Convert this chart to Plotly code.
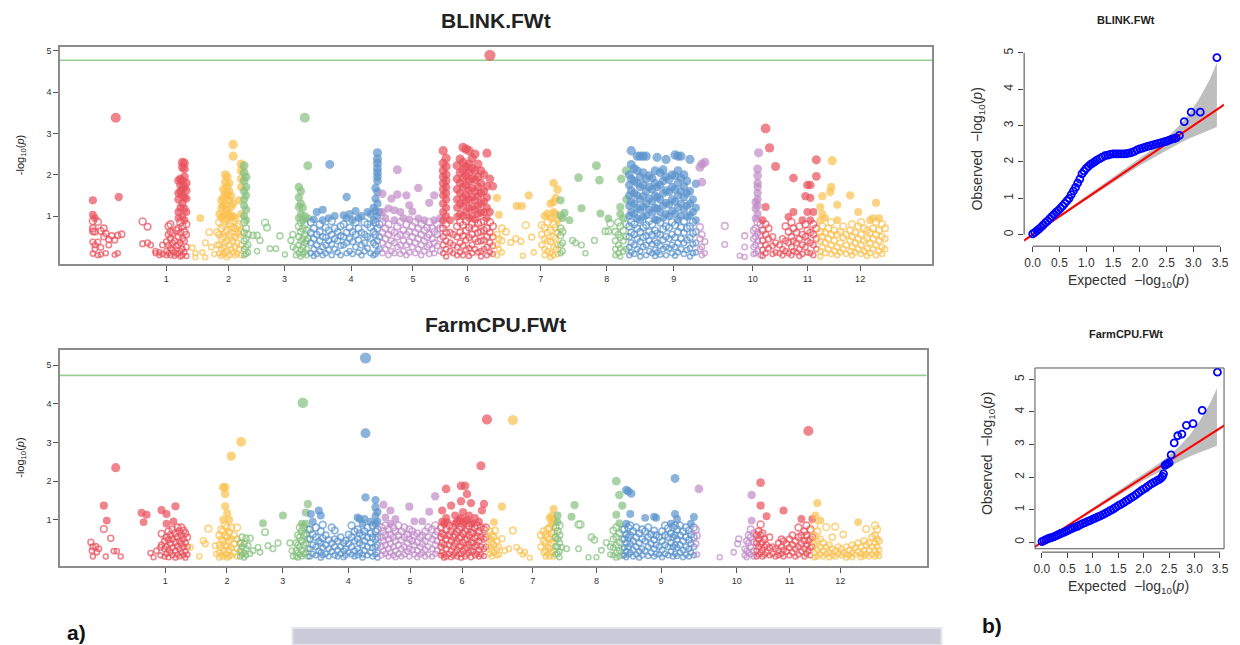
import plotly.graph_objects as go

W, H = 1240, 645
FONT = "Liberation Sans, Arial, sans-serif"

# ---------------- chromosome axis ----------------
CHROM_LABELS = [str(i) for i in range(1, 13)]
CHROM_COLORS = ["#E8505B", "#F9C14E", "#86C07F", "#5A93CC", "#C18DC7"]

BLINK_TICK_POS = [106.7, 169.4, 225.7, 292.4, 354.7, 409.0, 483.0, 549.4, 616.7, 696.0, 751.4, 804.0]
FARM_TICK_POS = [105.7, 167.7, 223.7, 289.7, 351.7, 404.0, 475.0, 539.0, 604.0, 680.0, 733.0, 784.0]

BLINK_THRESHOLD = 4.77
FARM_THRESHOLD = 4.74

# ---------------- BLINK.FWt : (cumulative position, [-log10 p of SNPs there]) ----------------
BLINK_CHR01 = [
    (33, [1.38, 1.03, 0.88, 0.70, 0.63, 0.37, 0.09]), (35, [0.95, 0.62, 0.30, 0.20]),
    (38, [0.86, 0.37, 0.05]), (41, [0.64, 0.24, 0.07]), (44, [0.70, 0.50]), (46, [0.58, 0.10]),
    (49, [0.43, 0.30]), (52, [0.52]), (55, [0.42, 0.06]), (56, [3.38]), (58, [0.53, 0.10]),
    (59, [1.46]), (62, [0.56]),
    (83, [0.87, 0.33]), (88, [0.74, 0.35]), (91, [0.30]), (96, [0.15, 0.10]), (100, [0.12, 0.05]),
    (103, [0.30, 0.08]), (107, [0.38, 0.15, 0.05]), (109, [0.75, 0.55, 0.30, 0.10]),
    (111, [0.80, 0.62, 0.45, 0.22, 0.05]), (113, [0.58, 0.35, 0.18]), (115, [0.40, 0.12, 0.03]),
    (117, [0.65, 0.28, 0.08]),
    (119, [1.86, 1.55, 1.40, 1.10, 0.95, 0.70, 0.50, 0.30, 0.10]),
    (121, [1.90, 1.75, 1.60, 1.20, 0.85, 0.60, 0.35, 0.15, 0.02]),
    (123, [2.30, 2.18, 1.85, 1.66, 1.50, 1.30, 1.00, 0.75, 0.45, 0.20, 0.05]),
    (125, [2.28, 2.14, 1.95, 1.70, 1.45, 1.18, 0.90, 0.62, 0.40, 0.12]),
    (127, [1.80, 1.62, 1.42, 1.10, 0.80, 0.55, 0.25, 0.03]),
]
BLINK_CHR02 = [
    (133, [0.23]), (136, [0.10, 0.00]), (141, [0.95]), (143, [0.12]), (146, [0.35, 0.00]),
    (150, [0.61]), (152, [0.25]), (155, [0.08]), (158, [0.61, 0.30]),
    (160, [1.05, 0.85, 0.55, 0.30, 0.10]), (162, [1.38, 1.20, 0.95, 0.70, 0.45, 0.20, 0.03]),
    (164, [1.65, 1.45, 1.25, 1.00, 0.78, 0.50, 0.25, 0.08]),
    (166, [2.00, 1.82, 1.55, 1.30, 1.08, 0.88, 0.60, 0.35, 0.12]),
    (168, [1.95, 1.70, 1.50, 1.15, 0.92, 0.65, 0.40, 0.15, 0.00]),
    (170, [1.80, 1.60, 1.38, 1.05, 0.82, 0.55, 0.30, 0.05]),
    (172, [1.48, 1.22, 0.98, 0.75, 0.48, 0.20]), (174, [2.73, 2.45, 1.30, 1.00, 0.72, 0.40, 0.12]),
    (176, [0.95, 0.70, 0.50, 0.25, 0.05]), (178, [0.75, 0.60, 0.35, 0.10]),
    (180, [1.38, 0.80, 0.55, 0.20]), (182, [2.26, 2.10, 1.90, 1.70, 1.05, 0.62, 0.30, 0.05]),
]
BLINK_CHR03 = [
    (185, [2.22, 2.05, 1.85, 1.60, 1.40, 1.25, 1.00, 0.85, 0.60, 0.40, 0.20, 0.05]),
    (187, [1.95, 1.70, 1.50, 1.15, 0.90, 0.70, 0.45, 0.25, 0.08]), (189, [0.55, 0.30, 0.12]),
    (194, [0.53]), (198, [0.53, 0.15]), (201, [0.41]), (206, [0.84]), (208, [0.72]), (211, [0.21]),
    (217, [0.21]), (221, [0.52]), (226, [0.07]), (232, [0.41]), (234, [0.55, 0.25]), (237, [0.20, 0.05]),
    (240, [1.70, 1.45, 1.22, 0.95, 0.75, 0.50, 0.30, 0.10]),
    (242, [1.60, 1.30, 1.05, 0.85, 0.62, 0.40, 0.18, 0.02]), (244, [1.20, 0.90, 0.70, 0.45, 0.25, 0.08]),
    (246, [3.38, 1.00, 0.80, 0.55, 0.35, 0.12]), (248, [0.65, 0.40, 0.20, 0.05]), (249, [2.22, 0.95, 0.45]),
]
BLINK_CHR04 = [
    (252, [0.85, 0.60, 0.35, 0.10]), (255, [0.92, 0.70, 0.45, 0.20, 0.03]), (258, [1.10, 0.55, 0.30, 0.08]),
    (261, [0.80, 0.62, 0.40, 0.15]), (264, [1.15, 0.90, 0.50, 0.25, 0.05]), (267, [0.72, 0.48, 0.30, 0.10]),
    (270, [0.95, 0.65, 0.40, 0.18]), (271, [2.25]), (273, [0.88, 0.55, 0.32, 0.05]),
    (276, [1.00, 0.70, 0.45, 0.20]), (279, [0.62, 0.40, 0.12]), (282, [0.75, 0.52, 0.28, 0.05]),
    (285, [1.02, 0.80, 0.50, 0.30]), (288, [1.46, 0.95, 0.60, 0.35, 0.10]), (291, [1.05, 0.72, 0.45, 0.15]),
    (294, [0.90, 0.62, 0.38, 0.08]), (297, [1.12, 0.85, 0.55, 0.25]), (300, [0.95, 0.70, 0.42, 0.12]),
    (303, [1.00, 0.60, 0.30, 0.05]), (306, [0.85, 0.55, 0.35, 0.15]), (309, [1.10, 0.80, 0.50, 0.22]),
    (312, [1.05, 0.72, 0.45, 0.10]), (315, [1.20, 0.90, 0.62, 0.35, 0.05]),
    (317, [1.68, 1.42, 1.12, 0.85, 0.55, 0.30, 0.08]),
    (319, [2.53, 2.38, 2.28, 2.15, 2.05, 1.95, 1.85, 1.58, 1.30, 1.00, 0.70, 0.40, 0.15]),
    (321, [1.10, 0.80, 0.50, 0.20]),
]
BLINK_CHR05 = [
    (324, [1.54, 1.10, 0.85, 0.60, 0.35, 0.10]), (327, [0.95, 0.70, 0.45, 0.20]),
    (330, [1.18, 0.80, 0.55, 0.30, 0.05]), (333, [1.42, 0.65, 0.40, 0.15]),
    (336, [1.14, 0.90, 0.60, 0.35, 0.10]), (339, [2.12, 1.52, 0.75, 0.50, 0.25]),
    (342, [1.10, 0.85, 0.55, 0.30, 0.08]), (345, [0.95, 0.65, 0.40, 0.15]),
    (348, [1.50, 0.80, 0.55, 0.30, 0.05]), (351, [1.26, 0.92, 0.62, 0.38, 0.12]),
    (354, [1.11, 0.75, 0.50, 0.25]), (357, [0.85, 0.60, 0.35, 0.10]), (360, [1.68, 0.94, 0.70, 0.45, 0.20]),
    (363, [0.80, 0.55, 0.30, 0.05]), (366, [0.90, 0.65, 0.40, 0.15]), (369, [0.72, 0.48, 0.25]),
    (371, [1.32, 0.85, 0.55, 0.30, 0.08]), (374, [0.70, 0.45, 0.20]), (376, [1.50, 0.90, 0.62, 0.35, 0.10]),
    (379, [0.80, 0.55, 0.28]), (382, [0.95, 0.70, 0.45, 0.15]),
]
BLINK_CHR06 = [
    (385, [2.58, 2.28, 2.10, 1.95, 1.80, 1.65, 1.50, 1.30, 1.10, 0.90, 0.70, 0.50, 0.30, 0.10]),
    (388, [2.40, 2.20, 2.00, 1.85, 1.70, 1.55, 1.40, 1.20, 1.00, 0.80, 0.60, 0.40, 0.20, 0.02]),
    (392, [0.90, 0.60, 0.35, 0.15]), (395, [0.55, 0.30, 0.10]),
    (399, [2.22, 1.90, 1.65, 1.40, 1.20, 0.98, 0.75, 0.50, 0.25, 0.05]),
    (402, [2.38, 2.05, 1.80, 1.55, 1.30, 1.05, 0.85, 0.60, 0.35, 0.12]),
    (405, [2.66, 2.30, 2.12, 1.92, 1.70, 1.45, 1.25, 1.00, 0.78, 0.52, 0.28, 0.05]),
    (408, [2.62, 2.20, 1.98, 1.75, 1.52, 1.35, 1.10, 0.88, 0.65, 0.42, 0.18]),
    (411, [2.58, 2.26, 2.05, 1.85, 1.62, 1.40, 1.18, 0.95, 0.72, 0.48, 0.22, 0.03]),
    (414, [2.40, 2.15, 1.90, 1.68, 1.45, 1.22, 1.00, 0.80, 0.55, 0.30, 0.10]),
    (417, [2.50, 2.10, 1.88, 1.60, 1.38, 1.15, 0.92, 0.70, 0.45, 0.20]),
    (420, [2.26, 1.95, 1.70, 1.48, 1.25, 1.05, 0.82, 0.60, 0.38, 0.12]),
    (423, [2.10, 1.80, 1.55, 1.30, 1.08, 0.85, 0.62, 0.40, 0.15, 0.02]),
    (426, [2.00, 1.60, 1.35, 1.10, 0.88, 0.65, 0.42, 0.20]),
    (429, [2.52, 1.72, 1.45, 1.20, 0.95, 0.70, 0.50, 0.25, 0.05]),
    (432, [4.89, 1.90, 1.10, 0.85, 0.60, 0.35, 0.12]), (435, [1.72, 0.75, 0.50, 0.28, 0.08]),
]
BLINK_CHR07 = [
    (439, [1.44, 0.55, 0.30, 0.05]), (441, [1.03, 0.45, 0.20]), (444, [0.70, 0.40, 0.12]), (448, [0.62]),
    (453, [0.36]), (458, [0.45]), (459, [1.24]), (463, [0.39]), (464, [1.24]), (465, [0.04]),
    (468, [0.78]), (471, [1.50]), (474, [0.49]), (476, [0.12]),
    (484, [0.78, 0.55, 0.30]), (487, [1.00, 0.72, 0.45, 0.20, 0.05]), (490, [1.06, 0.85, 0.60, 0.40, 0.15]),
    (493, [1.30, 0.95, 0.65, 0.38, 0.10, 0.00]), (496, [1.80, 1.34, 1.10, 0.80, 0.50, 0.25, 0.05]),
    (498, [1.44, 1.05, 0.72, 0.45, 0.20]), (500, [1.64, 0.90, 0.60, 0.30, 0.08]),
]
BLINK_CHR08 = [
    (503, [1.38, 1.02, 0.70, 0.53, 0.30, 0.10]), (505, [0.95, 0.62, 0.35, 0.15]), (507, [1.08]),
    (512, [0.90]), (515, [0.41]), (518, [0.35]), (521, [1.93]), (524, [1.19, 0.30]), (528, [0.10]),
    (537, [0.41]), (539, [2.22]), (542, [1.87]), (543, [1.06]), (548, [0.63]), (551, [0.94, 0.63]),
    (553, [0.82]), (558, [0.62, 0.40, 0.20, 0.05]), (561, [0.85, 0.55, 0.30, 0.10]),
    (563, [1.22, 1.05, 0.75, 0.48, 0.22, 0.02]), (564, [1.90]), (566, [0.95, 0.65, 0.40, 0.15]),
    (569, [2.10, 1.40, 0.80, 0.50, 0.20]),
]
BLINK_CHR09 = [
    (572, [2.00, 1.75, 1.50, 1.25, 1.00, 0.75, 0.50, 0.25, 0.05]),
    (574, [2.58, 2.25, 1.90, 1.62, 1.35, 1.10, 0.85, 0.60, 0.35, 0.12]),
    (577, [2.15, 1.85, 1.55, 1.30, 1.05, 0.80, 0.55, 0.30, 0.08]),
    (580, [2.45, 2.10, 1.80, 1.50, 1.20, 0.95, 0.70, 0.45, 0.20]),
    (583, [2.45, 1.95, 1.70, 1.40, 1.15, 0.90, 0.62, 0.38, 0.15, 0.02]),
    (586, [2.45, 2.05, 1.75, 1.48, 1.22, 0.98, 0.72, 0.48, 0.25]),
    (589, [2.45, 1.90, 1.60, 1.30, 1.02, 0.78, 0.52, 0.30, 0.05]),
    (592, [1.98, 1.70, 1.42, 1.15, 0.88, 0.62, 0.40, 0.15]),
    (595, [1.92, 1.65, 1.35, 1.08, 0.80, 0.55, 0.32, 0.10]),
    (598, [2.10, 1.80, 1.50, 1.20, 0.92, 0.65, 0.40, 0.18, 0.03]),
    (600, [2.42, 1.70, 1.45, 1.18, 0.90, 0.58, 0.35, 0.12]),
    (603, [2.05, 1.75, 1.40, 1.10, 0.85, 0.55, 0.28, 0.06]),
    (606, [2.12, 1.85, 1.55, 1.25, 0.95, 0.68, 0.42, 0.20]),
    (609, [2.37, 1.95, 1.62, 1.32, 1.05, 0.75, 0.50, 0.25, 0.05]),
    (612, [1.88, 1.58, 1.28, 1.00, 0.72, 0.45, 0.22]),
    (615, [2.00, 1.70, 1.40, 1.12, 0.85, 0.55, 0.30, 0.10]),
    (618, [2.48, 1.98, 1.65, 1.35, 1.05, 0.78, 0.48, 0.25, 0.04]),
    (621, [2.45, 2.10, 1.80, 1.50, 1.20, 0.90, 0.62, 0.35, 0.12]),
    (624, [2.45, 1.92, 1.60, 1.30, 1.00, 0.72, 0.45, 0.20]),
    (627, [2.00, 1.72, 1.45, 1.15, 0.88, 0.60, 0.35, 0.08]),
    (630, [1.85, 1.55, 1.25, 0.98, 0.70, 0.42, 0.18]),
    (633, [2.37, 1.60, 1.30, 1.02, 0.75, 0.48, 0.22, 0.02]),
    (636, [1.40, 1.10, 0.85, 0.58, 0.32, 0.10]), (639, [1.78, 1.20, 0.90, 0.62, 0.35, 0.12]),
]
BLINK_CHR10 = [
    (643, [2.18, 0.73, 0.45, 0.20]), (645, [2.26, 1.82, 0.55, 0.25, 0.05]), (648, [2.30, 0.38, 0.10]),
    (668, [0.76, 0.31]), (683, [0.04]), (688, [0.52, 0.25, 0.01]),
    (697, [0.65, 0.45, 0.25, 0.08]), (699, [1.34, 1.18, 0.94, 0.70, 0.50, 0.30, 0.10]),
    (701, [2.14, 1.98, 1.80, 1.70, 1.55, 1.40, 1.25, 1.05, 0.85, 0.60, 0.40, 0.15]),
    (702, [2.53]), (704, [0.80, 0.55, 0.30, 0.05]),
]
BLINK_CHR11 = [
    (706, [0.90, 0.65, 0.40, 0.18, 0.03]), (709, [3.12, 1.22, 0.80, 0.55, 0.30, 0.10]),
    (712, [0.70, 0.45, 0.22]), (713, [2.65]), (716, [0.50, 0.28, 0.08]), (719, [2.20, 0.35, 0.12]),
    (723, [0.30, 0.10]), (726, [0.45, 0.20, 0.05]), (729, [0.75, 0.40, 0.15]),
    (732, [0.98, 0.62, 0.35, 0.10]), (735, [0.85, 0.50, 0.25, 0.05]), (737, [1.92, 1.10, 0.70, 0.40, 0.15]),
    (740, [0.60, 0.35, 0.12]), (743, [0.75, 0.45, 0.20, 0.03]), (746, [0.90, 0.55, 0.30, 0.08]),
    (749, [1.48, 0.80, 0.50, 0.25]), (751, [1.75, 1.10, 0.65, 0.40, 0.12]),
    (754, [1.75, 1.44, 0.90, 0.60, 0.35, 0.10]), (757, [1.10, 0.80, 0.55, 0.30, 0.05]),
    (760, [2.36, 1.96, 0.70, 0.45, 0.20]),
]
BLINK_CHR12 = [
    (764, [1.22, 0.90, 0.62, 0.40, 0.15, 0.02]), (766, [1.48, 1.05, 0.75, 0.50, 0.25]),
    (769, [0.95, 0.60, 0.35, 0.10]), (772, [0.70, 0.45, 0.20]), (774, [1.58]),
    (775, [1.70, 0.85, 0.55, 0.30, 0.08]), (776, [2.34]), (778, [0.65, 0.40, 0.15]),
    (781, [1.27, 0.90, 0.55, 0.25, 0.05]), (784, [0.62, 0.35, 0.12]), (787, [0.75, 0.48, 0.20]),
    (790, [0.55, 0.30, 0.08]), (794, [1.50, 0.65, 0.40, 0.15]), (796, [0.80, 0.50, 0.25, 0.05]),
    (799, [0.60, 0.35, 0.12]), (802, [1.10, 0.75, 0.45, 0.20]), (805, [0.85, 0.55, 0.30, 0.08]),
    (808, [0.70, 0.40, 0.15]), (811, [0.65, 0.45, 0.22, 0.03]), (814, [0.90, 0.60, 0.35, 0.10]),
    (817, [0.95, 0.70, 0.45, 0.20]), (820, [1.32, 0.85, 0.55, 0.30, 0.05]),
    (823, [0.95, 0.65, 0.40, 0.15]), (826, [0.80, 0.50, 0.25, 0.08]), (829, [0.70, 0.45, 0.20]),
]

# ---------------- FarmCPU.FWt ----------------
FARM_CHR01 = [
    (31, [0.42]), (32, [0.20]), (33, [0.30, 0.05]), (36, [0.31]), (37, [0.16]), (39, [0.25]),
    (44, [1.37, 0.76]), (46, [0.05]), (47, [0.98]), (51, [0.52]), (54, [0.19]), (56, [2.35]),
    (57, [0.19]), (61, [0.05]),
    (82, [1.18]), (84, [0.94]), (87, [1.13]), (91, [0.14]), (94, [0.03]), (97, [0.20]),
    (101, [0.29, 0.08]), (102, [1.25, 0.64, 0.35]), (105, [0.45, 0.25, 0.05]),
    (107, [1.15, 0.90, 0.55, 0.30, 0.12]), (109, [0.70, 0.48, 0.22, 0.03]), (111, [0.60, 0.38, 0.15]),
    (113, [0.75, 0.50, 0.28, 0.08]), (114, [0.96]), (116, [1.35, 0.65, 0.42, 0.20, 0.02]),
    (118, [0.80, 0.55, 0.32, 0.10]), (120, [0.70, 0.45, 0.25, 0.05]), (122, [0.80, 0.60, 0.38, 0.15]),
    (124, [0.72, 0.50, 0.30, 0.08]), (126, [0.65, 0.40, 0.18, 0.02]), (128, [0.55, 0.30, 0.10]),
]
FARM_CHR02 = [
    (131, [0.29]), (140, [0.05]), (144, [0.46]), (146, [0.38]), (149, [0.77]), (156, [0.33]),
    (157, [0.12]), (160, [0.60, 0.35, 0.15, 0.02]), (162, [0.75, 0.50, 0.28, 0.08]),
    (164, [1.84, 1.00, 0.70, 0.45, 0.20, 0.05]), (166, [1.84, 1.67, 1.35, 0.85, 0.60, 0.35, 0.12]),
    (168, [1.17, 0.80, 0.55, 0.30, 0.10, 0.02]), (170, [1.00, 0.68, 0.45, 0.22, 0.05]),
    (172, [2.65, 0.80, 0.50, 0.28, 0.08]), (175, [0.60, 0.38, 0.15]), (178, [0.80, 0.50, 0.25, 0.05]),
    (182, [3.02, 0.40, 0.15]),
]
FARM_CHR03 = [
    (181, [0.40, 0.20, 0.05]), (183, [0.55, 0.30, 0.10]), (185, [0.38, 0.15, 0.02]),
    (187, [0.52, 0.25, 0.08]), (189, [0.33]), (191, [0.52, 0.12]), (194, [0.20]), (199, [0.29]),
    (201, [0.16]), (204, [0.91]), (206, [0.68]), (209, [0.33]), (214, [0.25]), (219, [0.40]),
    (224, [1.11]), (231, [0.40]), (233, [0.20]), (234, [0.05]),
    (237, [0.40, 0.20, 0.05]), (239, [0.60, 0.35, 0.15, 0.02]), (241, [0.80, 0.55, 0.30, 0.10]),
    (243, [0.90, 0.70, 0.45, 0.20, 0.05]), (244, [4.03]), (245, [0.80, 0.60, 0.35, 0.12]),
    (247, [1.19, 0.90, 0.65, 0.40, 0.15]), (249, [1.41, 0.75, 0.50, 0.25, 0.05]),
]
FARM_CHR04 = [
    (251, [0.75, 0.50, 0.25, 0.05]), (252, [1.15]), (254, [0.95, 0.62, 0.35, 0.12]),
    (257, [0.80, 0.55, 0.30, 0.08]), (260, [1.24, 0.45, 0.20]), (262, [1.11, 0.70, 0.40, 0.15, 0.02]),
    (264, [0.87, 0.52, 0.28, 0.08]), (267, [0.60, 0.35, 0.12]), (270, [0.48, 0.25, 0.05]),
    (273, [0.80, 0.40, 0.18]), (276, [0.72, 0.50, 0.30, 0.08]), (279, [0.45, 0.22, 0.05]),
    (282, [0.55, 0.30, 0.12]), (285, [0.40, 0.20, 0.03]), (287, [0.46, 0.25, 0.08]),
    (290, [0.62, 0.38, 0.15]), (293, [0.85, 0.55, 0.30, 0.10]), (296, [0.70, 0.45, 0.20, 0.05]),
    (299, [1.06, 0.75, 0.50, 0.25, 0.08]), (301, [1.02, 0.65, 0.40, 0.15]),
    (304, [0.90, 0.60, 0.35, 0.10, 0.02]), (306, [1.02, 0.70, 0.45, 0.20]), (307, [5.19, 3.24, 1.58]),
    (309, [0.80, 0.55, 0.30, 0.08]), (312, [0.95, 0.65, 0.40, 0.15]), (314, [0.85, 0.55, 0.28, 0.05]),
    (317, [1.51, 1.32, 1.10, 0.90, 0.70, 0.50, 0.30, 0.10]),
    (319, [1.20, 0.95, 0.75, 0.55, 0.35, 0.15, 0.02]),
]
FARM_CHR05 = [
    (323, [0.80, 0.55, 0.30, 0.08]), (325, [1.39, 0.70, 0.45, 0.20]), (327, [1.06, 0.85, 0.60, 0.35, 0.12]),
    (330, [0.75, 0.50, 0.25, 0.05]), (332, [1.24, 0.90, 0.62, 0.38, 0.15]), (335, [0.80, 0.55, 0.30, 0.08]),
    (337, [1.02, 0.70, 0.45, 0.20, 0.03]), (340, [0.85, 0.60, 0.35, 0.12]),
    (343, [0.70, 0.48, 0.25, 0.05]), (346, [0.80, 0.55, 0.30, 0.10]), (349, [0.62, 0.40, 0.18]),
    (351, [1.34, 0.75, 0.50, 0.25, 0.05]), (354, [0.70, 0.45, 0.22]), (356, [0.96, 0.60, 0.35, 0.10]),
    (359, [0.65, 0.42, 0.20, 0.03]), (362, [0.55, 0.30, 0.10]), (364, [0.96, 0.60, 0.38, 0.15]),
    (367, [0.70, 0.45, 0.22, 0.05]), (370, [0.80, 0.55, 0.30, 0.10]), (371, [1.21]),
    (374, [0.75, 0.50, 0.25, 0.05]), (377, [1.61, 0.85, 0.60, 0.35, 0.12]), (379, [0.70, 0.45, 0.20]),
]
FARM_CHR06 = [
    (383, [0.80, 0.55, 0.30, 0.08]), (384, [1.24, 0.95, 0.65, 0.40, 0.15]),
    (386, [0.90, 0.60, 0.35, 0.10, 0.02]), (388, [1.80, 1.05, 0.75, 0.50, 0.25, 0.05]), (389, [0.94]),
    (391, [0.85, 0.60, 0.35, 0.12]), (393, [1.37, 0.70, 0.45, 0.20, 0.03]), (395, [0.80, 0.55, 0.30, 0.08]),
    (397, [1.11, 0.90, 0.62, 0.38, 0.15]), (399, [0.95, 0.70, 0.45, 0.22, 0.05]),
    (401, [1.00, 0.75, 0.52, 0.30, 0.10]), (403, [1.88, 1.48, 1.05, 0.80, 0.55, 0.32, 0.12, 0.02]),
    (405, [1.20, 0.90, 0.65, 0.42, 0.20]), (407, [1.88, 0.95, 0.70, 0.48, 0.25, 0.05]),
    (409, [1.67, 1.00, 0.75, 0.50, 0.28, 0.10]), (411, [1.11, 0.85, 0.60, 0.35, 0.15]),
    (413, [1.43, 0.92, 0.68, 0.42, 0.20, 0.03]), (415, [0.90, 0.65, 0.40, 0.18]),
    (417, [1.05, 0.78, 0.52, 0.30, 0.08]), (419, [0.85, 0.58, 0.35, 0.12]),
    (421, [0.95, 0.70, 0.45, 0.22, 0.05]), (423, [2.40, 0.80, 0.55, 0.30, 0.10]), (424, [1.24]),
    (426, [1.41, 0.75, 0.50, 0.25, 0.06]), (428, [0.80, 0.55, 0.30]), (429, [3.60]),
]
FARM_CHR07 = [
    (432, [0.70, 0.50, 0.30, 0.12]), (434, [0.60, 0.40, 0.20, 0.05]), (436, [0.94, 0.55, 0.35, 0.15]),
    (437, [0.72]), (439, [0.45, 0.25, 0.08]), (441, [0.30, 0.10]), (444, [1.34, 0.51]), (447, [0.20]),
    (451, [0.25]), (455, [3.58, 0.72]), (459, [0.29]), (462, [0.20]), (465, [0.10]), (467, [0.16]),
    (472, [0.02]),
    (483, [0.60, 0.30]), (486, [0.70, 0.45, 0.15]), (488, [0.62, 0.40, 0.20, 0.05]),
    (490, [0.75, 0.55, 0.30, 0.10]), (492, [1.05, 0.80, 0.50, 0.25, 0.05]),
    (494, [1.10, 0.90, 0.65, 0.40, 0.15]), (496, [1.28, 1.00, 0.70, 0.45, 0.20, 0.05]),
]
FARM_CHR08 = [
    (498, [0.80, 0.55, 0.30, 0.10]), (500, [1.11, 0.94, 0.70, 0.50, 0.30, 0.12]),
    (502, [0.85, 0.60, 0.40, 0.18, 0.03]), (504, [0.29]), (509, [0.25]), (514, [1.08]), (517, [1.38]),
    (521, [0.88, 0.25]), (523, [0.88]), (531, [0.03]), (534, [0.55]), (537, [0.48]), (539, [0.03]),
    (544, [0.21]), (549, [0.41]), (553, [0.30, 0.10]), (556, [0.72, 0.50, 0.28, 0.08]),
    (559, [2.00, 1.13, 0.80, 0.55, 0.35, 0.15, 0.02]), (562, [1.64, 0.91, 0.65, 0.42, 0.20, 0.05]),
    (565, [1.37, 0.75, 0.50, 0.25, 0.08]),
]
FARM_CHR09 = [
    (567, [0.75, 0.50, 0.28, 0.08]), (569, [1.77, 0.90, 0.62, 0.40, 0.18, 0.03]),
    (571, [1.74, 0.80, 0.55, 0.30, 0.10]), (573, [1.15, 0.85, 0.60, 0.38, 0.15]), (574, [1.68]),
    (576, [0.70, 0.45, 0.22, 0.05]), (579, [0.80, 0.55, 0.30, 0.10]), (582, [0.65, 0.40, 0.18, 0.02]),
    (585, [0.75, 0.50, 0.25, 0.08]), (588, [1.05, 0.70, 0.45, 0.20]), (591, [0.80, 0.55, 0.30, 0.06]),
    (594, [0.62, 0.38, 0.15]), (597, [1.08, 0.72, 0.48, 0.25, 0.05]), (599, [1.05, 0.60, 0.35, 0.12]),
    (602, [0.55, 0.30, 0.10]), (605, [0.70, 0.45, 0.22, 0.03]), (608, [0.85, 0.60, 0.35, 0.12]),
    (611, [0.78, 0.55, 0.30, 0.08]), (614, [0.90, 0.65, 0.40, 0.18]), (616, [0.80, 0.55, 0.30, 0.05]),
    (618, [2.07, 1.15, 0.85, 0.60, 0.35, 0.12]), (620, [1.02, 0.75, 0.50, 0.28, 0.06]),
    (623, [0.85, 0.60, 0.35, 0.15]), (626, [0.70, 0.45, 0.22, 0.03]), (629, [0.80, 0.55, 0.30, 0.10]),
    (632, [0.72, 0.48, 0.25, 0.05]), (634, [0.90, 0.62, 0.38, 0.15]), (637, [1.07, 0.80, 0.55, 0.30, 0.08]),
]
FARM_CHR10 = [
    (639, [0.74, 0.38]), (640, [0.59, 0.10]), (642, [1.80]), (663, [0.03]), (677, [0.16]), (681, [0.38]),
    (682, [0.50]), (688, [0.25, 0.08]), (690, [0.45, 0.20, 0.03]), (692, [0.60, 0.40, 0.15]),
    (694, [0.75, 0.55, 0.30, 0.10]), (695, [1.64, 0.98]), (697, [0.65, 0.42, 0.20, 0.05]),
]
FARM_CHR11 = [
    (700, [0.60, 0.40, 0.20, 0.05]), (702, [0.70, 0.50, 0.30, 0.10]),
    (704, [1.96, 1.37, 0.88, 0.60, 0.38, 0.15]), (706, [0.65, 0.42, 0.22, 0.05]), (708, [0.50, 0.30, 0.10]),
    (710, [1.09, 0.35, 0.15]), (713, [0.55, 0.28, 0.08]), (716, [0.30, 0.12]), (719, [0.25, 0.05]),
    (722, [0.40, 0.20, 0.08]), (725, [0.50, 0.30, 0.12]), (727, [1.24, 0.45, 0.22, 0.05]),
    (730, [0.38, 0.18]), (733, [0.50, 0.28, 0.08]), (736, [0.60, 0.35, 0.15]), (739, [0.45, 0.25, 0.05]),
    (742, [0.80, 0.55, 0.30, 0.10]), (745, [1.02, 0.60, 0.38, 0.18]), (748, [0.70, 0.45, 0.25, 0.05]),
    (750, [0.85, 0.60, 0.35, 0.12]), (752, [3.30, 0.46, 0.20]), (754, [0.75, 0.50, 0.28, 0.08]),
    (756, [1.02, 0.55, 0.30]),
]
FARM_CHR12 = [
    (758, [0.85, 0.60, 0.38, 0.15, 0.03]), (759, [1.11]), (761, [1.43, 0.70, 0.45, 0.22, 0.05]),
    (764, [0.98, 0.50, 0.28, 0.10]), (767, [0.40, 0.20, 0.05]), (770, [0.81, 0.30, 0.12]),
    (773, [0.35, 0.15, 0.03]), (776, [0.55, 0.25, 0.08]), (779, [0.82, 0.20, 0.05]), (782, [0.30, 0.12]),
    (785, [0.25, 0.08]), (787, [0.62, 0.15]), (790, [0.30, 0.10, 0.02]), (793, [0.22, 0.08]),
    (796, [0.35, 0.15, 0.03]), (799, [0.28, 0.10]), (802, [0.94, 0.40, 0.18]), (805, [0.30, 0.12, 0.03]),
    (808, [0.45, 0.20, 0.06]), (810, [0.76, 0.35, 0.12]), (813, [0.40, 0.20, 0.05]),
    (816, [0.55, 0.30, 0.10]), (819, [0.85, 0.60, 0.40, 0.20, 0.05]), (821, [0.75, 0.50, 0.30, 0.12]),
    (823, [0.45, 0.22, 0.06]),
]

BLINK_CHROMS = [BLINK_CHR01, BLINK_CHR02, BLINK_CHR03, BLINK_CHR04, BLINK_CHR05, BLINK_CHR06,
                BLINK_CHR07, BLINK_CHR08, BLINK_CHR09, BLINK_CHR10, BLINK_CHR11, BLINK_CHR12]
FARM_CHROMS = [FARM_CHR01, FARM_CHR02, FARM_CHR03, FARM_CHR04, FARM_CHR05, FARM_CHR06,
               FARM_CHR07, FARM_CHR08, FARM_CHR09, FARM_CHR10, FARM_CHR11, FARM_CHR12]

# ---------------- QQ plots ----------------
BLINK_QQ_EXP = [0.00, 0.04, 0.08, 0.12, 0.16, 0.20, 0.24, 0.28, 0.32, 0.36, 0.40, 0.44, 0.48, 0.52, 0.56, 0.60,
                0.64, 0.68, 0.72, 0.76, 0.80, 0.84, 0.88, 0.92, 0.96, 1.00, 1.04, 1.08, 1.12, 1.16, 1.20,
                1.25, 1.30, 1.35, 1.40, 1.45, 1.50, 1.55, 1.60, 1.65, 1.70, 1.75, 1.80, 1.85, 1.90, 1.95,
                2.00, 2.05, 2.10, 2.15, 2.20, 2.25, 2.30, 2.35, 2.40, 2.45, 2.50,
                2.55, 2.60, 2.64, 2.68, 2.74, 2.83, 2.96, 3.13, 3.44]
BLINK_QQ_OBS = [0.02, 0.06, 0.11, 0.16, 0.21, 0.27, 0.33, 0.38, 0.44, 0.50, 0.56, 0.62, 0.67, 0.73, 0.79, 0.86,
                0.93, 1.00, 1.10, 1.20, 1.30, 1.42, 1.53, 1.67, 1.75, 1.82, 1.88, 1.93, 1.97, 2.01, 2.05,
                2.09, 2.13, 2.17, 2.19, 2.21, 2.22, 2.22, 2.22, 2.22, 2.22, 2.23, 2.24, 2.26, 2.29, 2.33,
                2.36, 2.38, 2.41, 2.43, 2.45, 2.47, 2.49, 2.51, 2.53, 2.55, 2.57,
                2.60, 2.63, 2.64, 2.66, 2.73, 3.11, 3.37, 3.37, 4.87]

FARM_QQ_EXP = [0.00, 0.04, 0.08, 0.12, 0.16, 0.20, 0.24, 0.28, 0.32, 0.36, 0.40, 0.44, 0.48, 0.52, 0.56, 0.60,
               0.65, 0.70, 0.75, 0.80, 0.85, 0.90, 0.95, 1.00, 1.05, 1.10, 1.15, 1.20, 1.25, 1.30, 1.35,
               1.40, 1.45, 1.50, 1.55, 1.60, 1.65, 1.70, 1.75, 1.80, 1.85, 1.90, 1.95, 2.00, 2.05, 2.10,
               2.15, 2.20, 2.25, 2.30,
               2.34, 2.37, 2.39, 2.42, 2.44, 2.47, 2.50, 2.54, 2.60, 2.67, 2.75, 2.84, 2.97, 3.15, 3.45]
FARM_QQ_OBS = [0.02, 0.05, 0.08, 0.11, 0.13, 0.15, 0.17, 0.20, 0.23, 0.26, 0.29, 0.31, 0.34, 0.37, 0.40, 0.43,
               0.46, 0.49, 0.53, 0.57, 0.60, 0.64, 0.67, 0.71, 0.74, 0.78, 0.81, 0.85, 0.89, 0.93, 0.98,
               1.02, 1.07, 1.12, 1.16, 1.21, 1.26, 1.31, 1.36, 1.41, 1.46, 1.52, 1.58, 1.63, 1.68, 1.74,
               1.79, 1.84, 1.88, 1.92,
               1.97, 2.02, 2.10, 2.36, 2.38, 2.41, 2.44, 2.68, 3.05, 3.27, 3.32, 3.59, 3.64, 4.05, 5.22]

# 95% confidence band of the expected distribution (same SNP count for both models)
QQ_BAND_EXP = [0.00, 0.50, 1.00, 1.50, 2.00, 2.30, 2.50, 2.70, 2.90, 3.10, 3.30, 3.44]
QQ_BAND_UPPER = [0.02, 0.55, 1.06, 1.58, 2.10, 2.42, 2.66, 2.95, 3.28, 3.72, 4.25, 4.73]
QQ_BAND_LOWER = [0.00, 0.46, 0.95, 1.43, 1.90, 2.16, 2.32, 2.48, 2.63, 2.76, 2.88, 2.96]


def px(x):
    return x / W


def py(y):
    return 1 - y / H


fig = go.Figure()


def add_manhattan(chroms, xa, ya):
    for i, chrom in enumerate(chroms):
        color = CHROM_COLORS[i % len(CHROM_COLORS)]
        xo, yo, so, xf, yf, sf = [], [], [], [], [], []
        for pos, vals in chrom:
            for v in vals:
                if v >= 0.9:
                    xf.append(pos); yf.append(v); sf.append(min(7.0 + 0.9 * v, 11.2))
                else:
                    xo.append(pos); yo.append(v); so.append(4.8 + 2.4 * v)
        fig.add_trace(go.Scatter(
            x=xo, y=yo, mode="markers", xaxis=xa, yaxis=ya, showlegend=False, hoverinfo="skip",
            marker=dict(symbol="circle-open", size=so, color=color, line=dict(width=1.6)),
        ))
        fig.add_trace(go.Scatter(
            x=xf, y=yf, mode="markers", xaxis=xa, yaxis=ya, showlegend=False, hoverinfo="skip",
            marker=dict(symbol="circle", size=sf, color=color, line=dict(width=0)),
        ))


add_manhattan(BLINK_CHROMS, "x", "y")
add_manhattan(FARM_CHROMS, "x2", "y2")


def add_qq(exp, obs, xa, ya):
    band_x = QQ_BAND_EXP + QQ_BAND_EXP[::-1]
    band_y = QQ_BAND_UPPER + QQ_BAND_LOWER[::-1]
    fig.add_trace(go.Scatter(
        x=band_x, y=band_y, mode="lines", fill="toself", fillcolor="#BEBEBE",
        line=dict(width=0, color="#BEBEBE"), xaxis=xa, yaxis=ya, showlegend=False, hoverinfo="skip",
    ))
    fig.add_trace(go.Scatter(
        x=[-1, 4], y=[-1, 4], mode="lines", line=dict(color="#FF0000", width=2),
        xaxis=xa, yaxis=ya, showlegend=False, hoverinfo="skip",
    ))
    fig.add_trace(go.Scatter(
        x=exp, y=obs, mode="markers", xaxis=xa, yaxis=ya, showlegend=False, hoverinfo="skip",
        marker=dict(symbol="circle-open", size=7, color="#0000FF", line=dict(width=1.8)),
    ))


add_qq(BLINK_QQ_EXP, BLINK_QQ_OBS, "x3", "y3")
add_qq(FARM_QQ_EXP, FARM_QQ_OBS, "x4", "y4")

# ---------------- axes ----------------
tick_font_m = dict(family=FONT, size=9, color="#333333")
tick_font_q = dict(family=FONT, size=12, color="#333333")

man_x_common = dict(
    tickmode="array", ticktext=CHROM_LABELS, ticks="outside", ticklen=5, tickwidth=1,
    tickcolor="#555555", showline=True, mirror=True, linecolor="#8C8C8C", linewidth=1.5,
    showgrid=False, zeroline=False, tickfont=tick_font_m,
)
man_y_common = dict(
    tickmode="array", tickvals=[1, 2, 3, 4, 5], ticks="outside", ticklen=5, tickwidth=1,
    tickcolor="#555555", showline=True, mirror=True, linecolor="#8C8C8C", linewidth=1.5,
    showgrid=False, zeroline=False, tickfont=tick_font_m,
)

qq_x_common = dict(
    tickmode="array", tickvals=[0, 0.5, 1, 1.5, 2, 2.5, 3, 3.5],
    ticktext=["0.0", "0.5", "1.0", "1.5", "2.0", "2.5", "3.0", "3.5"],
    ticks="outside", ticklen=5, tickwidth=1, tickcolor="#444444", showline=False,
    showgrid=False, zeroline=False, tickfont=tick_font_q, anchor="free",
)
qq_y_common = dict(
    tickmode="array", tickvals=[0, 1, 2, 3, 4, 5], ticks="outside", ticklen=5, tickwidth=1,
    tickcolor="#444444", showline=False, showgrid=False, zeroline=False, tickfont=tick_font_q,
    tickangle=-90,
)

fig.update_layout(
    width=W, height=H, autosize=False,
    margin=dict(l=0, r=0, t=0, b=0, pad=0),
    paper_bgcolor="white", plot_bgcolor="white",
    xaxis=dict(man_x_common, domain=[px(59.3), px(935.7)], range=[0, 876.4],
               tickvals=BLINK_TICK_POS, anchor="y"),
    yaxis=dict(man_y_common, domain=[py(262.7), py(44.7)], range=[-0.173, 5.08], anchor="x"),
    xaxis2=dict(man_x_common, domain=[px(59.3), px(930)], range=[0, 870.7],
                tickvals=FARM_TICK_POS, anchor="y2"),
    yaxis2=dict(man_y_common, domain=[py(566), py(349)], range=[-0.206, 5.387], anchor="x2"),
    xaxis3=dict(qq_x_common, domain=[px(1028.1), px(1228.8)], range=[-0.16, 3.57],
                position=py(244.3)),
    yaxis3=dict(qq_y_common, domain=[py(240), py(47.6)], range=[-0.2, 5.07], anchor="x3"),
    xaxis4=dict(qq_x_common, domain=[px(1039), px(1229)], range=[-0.137, 3.58],
                position=py(551.7)),
    yaxis4=dict(qq_y_common, domain=[py(548.3), py(366.7)], range=[-0.2, 5.35], anchor="x4"),
)

shapes = [
    # genome-wide significance thresholds
    dict(type="line", xref="x domain", yref="y", x0=0, x1=1, y0=BLINK_THRESHOLD, y1=BLINK_THRESHOLD,
         line=dict(color="#98CF92", width=1.6), layer="below"),
    dict(type="line", xref="x2 domain", yref="y2", x0=0, x1=1, y0=FARM_THRESHOLD, y1=FARM_THRESHOLD,
         line=dict(color="#98CF92", width=1.6), layer="below"),
    # R-style QQ axis lines spanning the tick range
    dict(type="line", xref="x3 domain", yref="y3", x0=0, x1=0, y0=0, y1=5,
         line=dict(color="#444444", width=1)),
    dict(type="line", xref="x3", yref="paper", x0=0, x1=3.5, y0=py(244.3), y1=py(244.3),
         line=dict(color="#444444", width=1)),
    dict(type="line", xref="x4", yref="paper", x0=0, x1=3.5, y0=py(551.7), y1=py(551.7),
         line=dict(color="#444444", width=1)),
    dict(type="rect", xref="x4 domain", yref="y4 domain", x0=0, x1=1, y0=0, y1=1,
         line=dict(color="#555555", width=1)),
    # strip along the bottom edge
    dict(type="rect", xref="paper", yref="paper", x0=px(293), x1=px(945), y0=py(645), y1=py(628),
         fillcolor="#CACAD8", line=dict(color="#E4E4EC", width=2)),
]
fig.update_layout(shapes=shapes)


def label(text, x, y, size, bold=False, angle=0, color="#222222"):
    return dict(
        text=f"<b>{text}</b>" if bold else text, x=px(x), y=py(y), xref="paper", yref="paper",
        showarrow=False, xanchor="center", yanchor="middle", textangle=angle,
        font=dict(family=FONT, size=size, color=color),
    )


LOGP = "−log<sub>10</sub>(<i>p</i>)"
annotations = [
    label("BLINK.FWt", 497, 18, 21, bold=True),
    label("FarmCPU.FWt", 497, 323, 21, bold=True),
    label("-log<sub>10</sub>(<i>p</i>)", 20, 153, 11, angle=-90),
    label("-log<sub>10</sub>(<i>p</i>)", 20, 457, 11, angle=-90),
    label("BLINK.FWt", 1130, 17, 11, bold=True),
    label("FarmCPU.FWt", 1130, 333, 11, bold=True),
    label("Observed  " + LOGP, 982, 147, 14, angle=-90, color="#333333"),
    label("Expected  " + LOGP, 1133, 279, 14, color="#333333"),
    label("Observed  " + LOGP, 992, 453, 14, angle=-90, color="#333333"),
    label("Expected  " + LOGP, 1133, 587, 14, color="#333333"),
    label("a)", 76, 632, 21, bold=True, color="#111111"),
    label("b)", 996, 625, 21, bold=True, color="#111111"),
]
fig.update_layout(annotations=annotations)

fig.write_html("out.html")
